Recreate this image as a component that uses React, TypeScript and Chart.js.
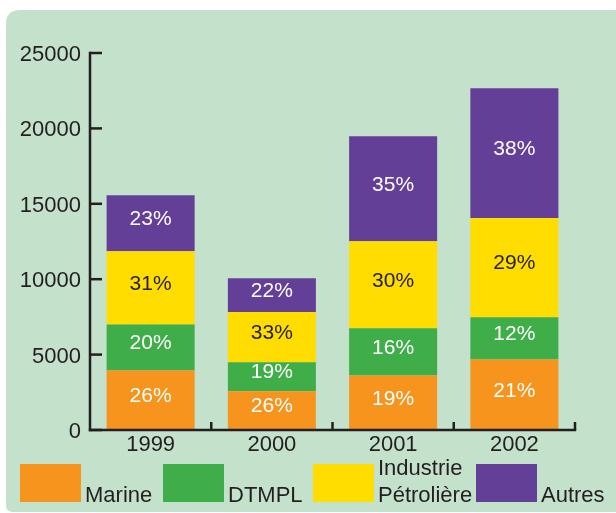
import React, { useEffect, useRef } from "react";
import { Chart, registerables } from "chart.js";

Chart.register(...registerables);

const categories = ["1999", "2000", "2001", "2002"];
const marine = [3950, 2575, 3620, 4680];
const dtmpl = [3050, 1925, 3120, 2805];
const industrie = [4850, 3320, 5770, 6570];
const autres = [3720, 2235, 6970, 8610];
const marinePct = ["26%", "26%", "19%", "21%"];
const dtmplPct = ["20%", "19%", "16%", "12%"];
const industriePct = ["31%", "33%", "30%", "29%"];
const autresPct = ["23%", "22%", "35%", "38%"];
const seriesNames = ["Marine", "DTMPL", "Industrie\nPétrolière", "Autres"];
const seriesColors = ["#f7941d", "#3fae49", "#ffdd00", "#633f98"];
const pctTextColors = ["#ffffff", "#ffffff", "#231f20", "#ffffff"];
const yMax = 25000;
const yStep = 5000;

const FONT = "'Liberation Sans', Arial, Helvetica, sans-serif";
const INK = "#231f20";
const BG = "#c3e1cb";

const bgPlugin = {
  id: "panelBg",
  beforeDraw(chart: any) {
    const ctx = chart.ctx;
    const w = chart.width;
    const h = chart.height;
    ctx.save();
    ctx.fillStyle = "#ffffff";
    ctx.fillRect(0, 0, w, h);
    const x0 = 6, y0 = 10, x1 = w + 20, y1 = 512;
    const rTL = 14, rBL = 7;
    ctx.beginPath();
    ctx.moveTo(x0 + rTL, y0);
    ctx.lineTo(x1, y0);
    ctx.lineTo(x1, y1);
    ctx.lineTo(x0 + rBL, y1);
    ctx.quadraticCurveTo(x0, y1, x0, y1 - rBL);
    ctx.lineTo(x0, y0 + rTL);
    ctx.quadraticCurveTo(x0, y0, x0 + rTL, y0);
    ctx.closePath();
    ctx.fillStyle = BG;
    ctx.fill();
    ctx.restore();
  },
};

const axesPlugin = {
  id: "customAxes",
  afterDatasetsDraw(chart: any) {
    const ctx = chart.ctx;
    const { left, right, top, bottom } = chart.chartArea;
    const ys = chart.scales.y;
    const xs = chart.scales.x;
    ctx.save();
    ctx.strokeStyle = INK;
    ctx.lineWidth = 2.5;
    ctx.lineCap = "butt";
    ctx.beginPath();
    ctx.moveTo(left, top - 1.2);
    ctx.lineTo(left, bottom + 1.2);
    ctx.stroke();
    ctx.beginPath();
    ctx.moveTo(left - 1.2, bottom);
    ctx.lineTo(right + 1.2, bottom);
    ctx.stroke();
    ys.ticks.forEach((t: any) => {
      const py = ys.getPixelForValue(t.value);
      ctx.beginPath();
      ctx.moveTo(left, py);
      ctx.lineTo(left + 12, py);
      ctx.stroke();
    });
    const n = categories.length;
    const half = (xs.getPixelForValue(1) - xs.getPixelForValue(0)) / 2;
    for (let i = 0; i < n; i++) {
      const px = xs.getPixelForValue(i) + half;
      ctx.beginPath();
      ctx.moveTo(px, bottom);
      ctx.lineTo(px, bottom - 8);
      ctx.stroke();
    }
    ctx.restore();
  },
};

const pctLists = [marinePct, dtmplPct, industriePct, autresPct];

const pctPlugin = {
  id: "pctLabels",
  afterDatasetsDraw(chart: any) {
    const ctx = chart.ctx;
    ctx.save();
    ctx.font = `21px ${FONT}`;
    ctx.textAlign = "center";
    ctx.textBaseline = "middle";
    chart.data.datasets.forEach((ds: any, di: number) => {
      const meta = chart.getDatasetMeta(di);
      meta.data.forEach((el: any, i: number) => {
        const cy = (el.y + el.base) / 2 - 4;
        ctx.fillStyle = pctTextColors[di];
        ctx.fillText(pctLists[di][i], el.x, cy);
      });
    });
    ctx.restore();
  },
};

const legendX = [20, 163, 313, 476];

const legendPlugin = {
  id: "customLegend",
  afterDraw(chart: any) {
    const ctx = chart.ctx;
    ctx.save();
    ctx.font = `22px ${FONT}`;
    ctx.textAlign = "left";
    ctx.textBaseline = "alphabetic";
    chart.data.datasets.forEach((ds: any, di: number) => {
      const bx = legendX[di];
      ctx.fillStyle = ds.backgroundColor;
      ctx.fillRect(bx, 464, 61, 38);
      ctx.fillStyle = INK;
      const lines = String(ds.label).split("\n");
      const tx = bx + 65;
      if (lines.length === 1) {
        ctx.fillText(lines[0], tx, 502);
      } else {
        ctx.fillText(lines[0], tx, 475);
        ctx.fillText(lines[1], tx, 502);
      }
    });
    ctx.restore();
  },
};

export default function App() {
  const canvasRef = useRef<HTMLCanvasElement | null>(null);

  useEffect(() => {
    document.body.style.margin = "0";
    const canvas = canvasRef.current;
    if (!canvas) return;
    const seriesData = [marine, dtmpl, industrie, autres];
    const chart = new Chart(canvas, {
      type: "bar",
      data: {
        labels: categories,
        datasets: seriesData.map((d, i) => ({
          label: seriesNames[i],
          data: d,
          backgroundColor: seriesColors[i],
          borderWidth: 0,
          categoryPercentage: 1,
          barPercentage: 0.726,
        })),
      },
      options: {
        animation: false,
        responsive: true,
        maintainAspectRatio: false,
        layout: { padding: { top: 53, right: 41, bottom: 0, left: 0 } },
        plugins: {
          legend: { display: false },
          tooltip: { enabled: false },
          title: { display: false },
        },
        scales: {
          x: {
            stacked: true,
            grid: { display: false, drawTicks: false },
            border: { display: false },
            ticks: {
              color: INK,
              font: { family: FONT, size: 22 },
              padding: 2,
              maxRotation: 0,
            },
            afterFit(scale: any) {
              scale.height = 83;
            },
          },
          y: {
            stacked: true,
            min: 0,
            max: yMax,
            grid: { display: false, drawTicks: false },
            border: { display: false },
            ticks: {
              stepSize: yStep,
              color: INK,
              font: { family: FONT, size: 22 },
              padding: 9,
              labelOffset: 2,
              callback: (v: any) => String(v),
            },
            afterFit(scale: any) {
              scale.width = 90;
            },
          },
        },
      },
      plugins: [bgPlugin, axesPlugin, pctPlugin, legendPlugin],
    });
    return () => chart.destroy();
  }, []);

  return (
    <div style={{ width: 616, height: 513, position: "relative" }}>
      <canvas ref={canvasRef} />
    </div>
  );
}
